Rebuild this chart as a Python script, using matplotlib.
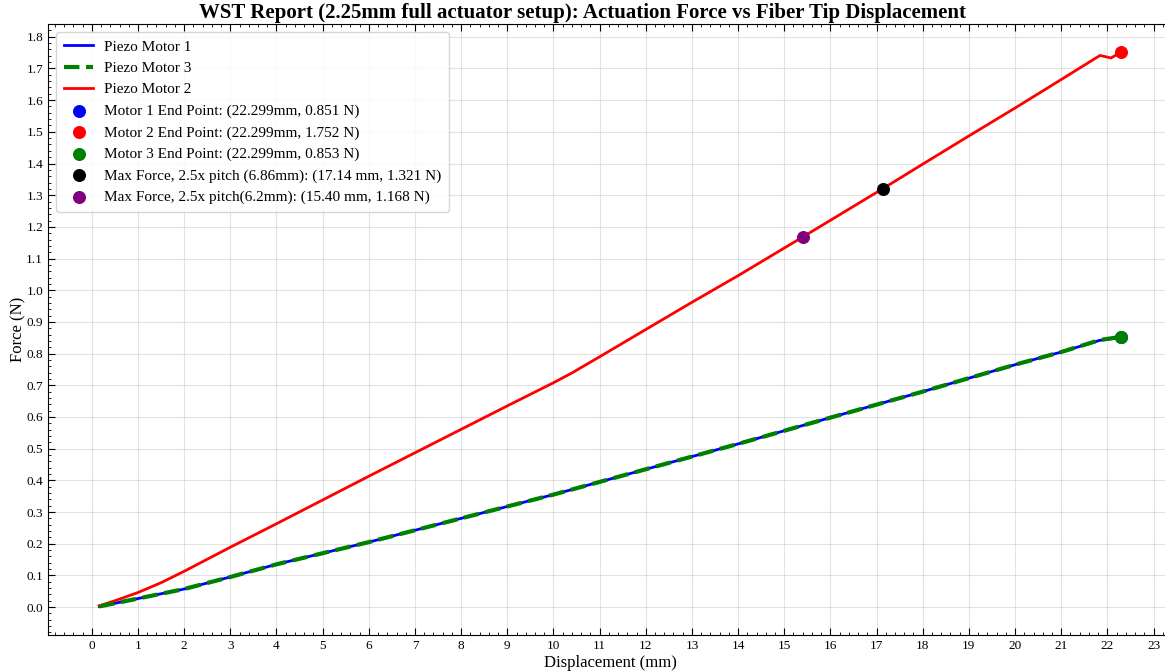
import numpy as np
import matplotlib.pyplot as plt
from matplotlib.ticker import MultipleLocator, FormatStrFormatter

plt.rcParams['font.family'] = ['Liberation Serif', 'DejaVu Serif']
plt.rcParams['mathtext.fontset'] = 'stix'

# Motor 1 / Motor 3 (practically identical curves)
disp_m1 = [0.16, 0.5, 1.0, 1.5, 2.0, 3.0, 4.0, 6.0, 8.0, 10.0, 12.0, 14.0,
           16.0, 18.0, 20.0, 21.0, 21.84, 22.299]
force_m1 = [0.002, 0.012, 0.027, 0.042, 0.057, 0.095, 0.135, 0.205, 0.28,
            0.355, 0.435, 0.515, 0.598, 0.68, 0.765, 0.805, 0.842, 0.851]
disp_m3 = disp_m1
force_m3 = [0.002, 0.012, 0.027, 0.042, 0.057, 0.095, 0.135, 0.205, 0.28,
            0.355, 0.435, 0.515, 0.598, 0.68, 0.765, 0.805, 0.843, 0.853]

# Motor 2
disp_m2 = [0.16, 0.5, 1.0, 1.5, 2.0, 2.5, 3.0, 4.0, 5.0, 6.0, 7.0, 8.0, 9.0,
           10.0, 10.4, 11.0, 12.0, 13.0, 14.0, 15.4, 17.14, 18.0, 19.0,
           20.0, 21.0, 21.84, 22.08, 22.299]
force_m2 = [0.004, 0.02, 0.046, 0.077, 0.113, 0.151, 0.189, 0.263, 0.338,
            0.413, 0.487, 0.561, 0.635, 0.708, 0.739, 0.79, 0.876, 0.962,
            1.046, 1.168, 1.321, 1.398, 1.487, 1.575, 1.665, 1.741, 1.733,
            1.752]

end_labels = ["Motor 1 End Point: (22.299mm, 0.851 N)",
              "Motor 2 End Point: (22.299mm, 1.752 N)",
              "Motor 3 End Point: (22.299mm, 0.853 N)"]
end_x = [22.299, 22.299, 22.299]
end_y = [0.851, 1.752, 0.853]
end_colors = ['blue', 'red', 'green']

max_labels = ["Max Force, 2.5x pitch (6.86mm): (17.14 mm, 1.321 N)",
              "Max Force, 2.5x pitch(6.2mm): (15.40 mm, 1.168 N)"]
max_x = [17.14, 15.40]
max_y = [1.321, 1.168]
max_colors = ['black', 'purple']

fig = plt.figure(figsize=(11.65, 6.71), dpi=100)
ax = fig.add_axes([0.0412, 0.0537, 0.9648, 0.9104])

ax.plot(disp_m1, force_m1, color='blue', lw=2, label='Piezo Motor 1', zorder=3)
ax.plot(disp_m3, force_m3, color='green', lw=3, ls='--',
        label='Piezo Motor 3', zorder=4)
ax.plot(disp_m2, force_m2, color='red', lw=2, label='Piezo Motor 2', zorder=3)

for x, y, c, lab in zip(end_x, end_y, end_colors, end_labels):
    ax.scatter([x], [y], s=70, color=c, label=lab, zorder=5)
for x, y, c, lab in zip(max_x, max_y, max_colors, max_labels):
    ax.scatter([x], [y], s=70, color=c, label=lab, zorder=5)

ax.set_xlim(-0.95, 23.4)
ax.set_ylim(-0.088, 1.84)
ax.xaxis.set_major_locator(MultipleLocator(1))
ax.xaxis.set_minor_locator(MultipleLocator(0.2))
ax.yaxis.set_major_locator(MultipleLocator(0.1))
ax.yaxis.set_minor_locator(MultipleLocator(0.02))
ax.yaxis.set_major_formatter(FormatStrFormatter('%.1f'))
ax.tick_params(which='both', direction='in', top=True, right=True, labelsize=9.5)
ax.tick_params(which='major', length=5, width=0.8)
ax.tick_params(which='minor', length=2.5, width=0.6)
ax.grid(True, which='major', color='#d0d0d0', alpha=0.6, lw=0.8)

ax.set_xlabel('Displacement (mm)', fontsize=12, labelpad=2)
ax.set_ylabel('Force (N)', fontsize=12, labelpad=0)
fig.suptitle('WST Report (2.25mm full actuator setup): Actuation Force vs Fiber Tip Displacement',
             fontsize=15, fontweight='bold', x=0.5, y=0.995)

ax.legend(loc='upper left', fontsize=11, frameon=True, framealpha=0.8,
          edgecolor='#cccccc', fancybox=True, handlelength=1.9,
          handletextpad=0.7, borderpad=0.55, labelspacing=0.5,
          scatterpoints=1)

fig.savefig('out.png', dpi=100)
